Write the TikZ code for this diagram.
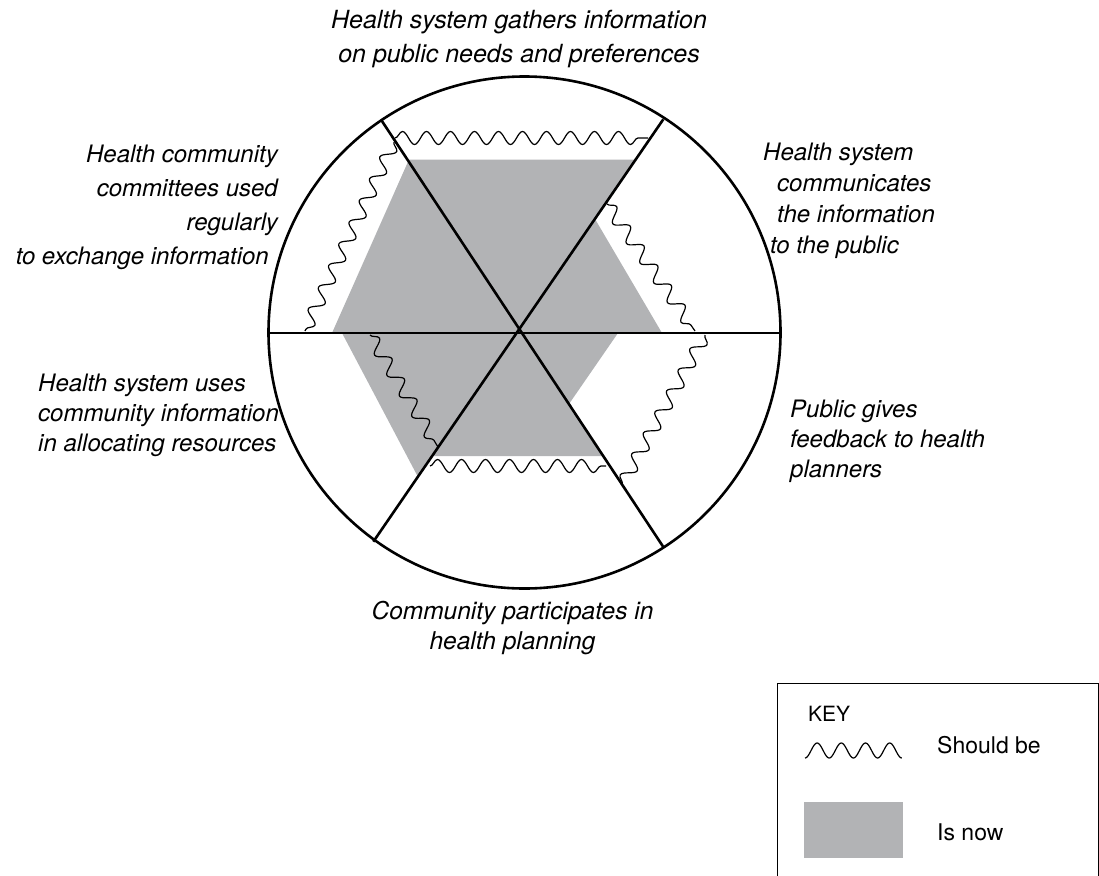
\documentclass[tikz,border=0pt]{standalone}
\usepackage{fontspec}
\setmainfont{TeX Gyre Heros}
\usetikzlibrary{decorations.pathmorphing}
\definecolor{nowgray}{RGB}{178,179,181}
\begin{document}
\begin{tikzpicture}[x=1pt,y=-1pt,
  wheel/.style={line width=2.6pt},
  wavy/.style={line width=1.2pt, decorate, decoration={snake, segment length=24pt, amplitude=6.5pt}},
  lbl/.style={inner sep=0pt},
  keytext/.style={font=\fontsize{23}{28}\selectfont, inner sep=0pt}]
\useasboundingbox (0,0) rectangle (1099,875);
% geometry
\coordinate (C) at (524.5,332.5);
\coordinate (UL) at (381.7,120.7);
\coordinate (LR) at (664,548);
\coordinate (UR) at (663.3,119.3);
\coordinate (LL) at (373.3,541.7);
\coordinate (L) at (268.5,333);
\coordinate (R) at (780.5,333);
% "is now" area
\fill[nowgray] (409,159.5) -- (636,159.5) -- (595,219) -- (662,333) -- (618,333)
  -- (569,404) -- (603.5,456) -- (432.5,456) -- (418,477) -- (342,333) -- (332,333) -- cycle;
% "should be" wavy lines
\coordinate (w1a) at (395,138); \coordinate (w1b) at (648,138);
\coordinate (w2a) at (607,204); \coordinate (w2b) at (695,331);
\coordinate (w3a) at (705,335); \coordinate (w3b) at (622,485);
\coordinate (w4a) at (430,466); \coordinate (w4b) at (606,466);
\coordinate (w5a) at (370,335); \coordinate (w5b) at (438,447);
\coordinate (w6a) at (394,142); \coordinate (w6b) at (305,331);
\draw[wavy] (w1a) -- (w1b);
\draw[wavy] (w2a) -- (w2b);
\draw[wavy] (w3a) -- (w3b);
\draw[wavy] (w4a) -- (w4b);
\draw[wavy] (w5a) -- (w5b);
\draw[wavy] (w6a) -- (w6b);
% wheel
\draw[wheel] (C) circle[radius=256];
\draw[wheel] (UL) -- (LR);
\draw[wheel] (UR) -- (LL);
\draw[wheel] (L) -- (R);
% labels (anchor = baseline of last line)
\node[lbl, font=\itshape\fontsize{25}{34}\selectfont, align=center, anchor=base] (t1) at (519,63)
  {Health system gathers information\\on public needs and preferences};
\node[lbl, font=\itshape\fontsize{24}{31}\selectfont, align=left, anchor=base west] (t2) at (763,253)
  {Health system\\\hspace*{14pt}communicates\\\hspace*{14pt}the information\\\hspace*{7pt}to the public};
\node[lbl, font=\itshape\fontsize{24}{34}\selectfont, align=right, anchor=base east] (t3) at (278,264)
  {Health community\\committees used\\regularly\\to exchange information\hspace*{9pt}};
\node[lbl, font=\itshape\fontsize{24}{30}\selectfont, align=left, anchor=base west] (t4) at (38,451)
  {Health system uses\\community information\\in allocating resources};
\node[lbl, font=\itshape\fontsize{24}{30}\selectfont, align=left, anchor=base west] (t5) at (790,477)
  {Public gives\\feedback to health\\planners};
\node[lbl, font=\itshape\fontsize{24.5}{30}\selectfont, align=center, anchor=base] (t6) at (512.5,649)
  {Community participates in\\health planning};
% key
\draw[line width=1.3pt] (777.5,683.5) rectangle (1098.3,890);
\node[keytext, font=\fontsize{21}{25}\selectfont, anchor=base west] (key) at (808,721.5) {KEY};
\draw[line width=1.2pt, shift={(805,750.5)}] plot[domain=0:96.8, samples=97, smooth] (\x,{7.5*cos(\x/24.2*360)});
\node[keytext, anchor=base west] (should) at (937,753) {Should be};
\fill[nowgray] (804,801.7) rectangle (902.7,858.3);
\node[keytext, anchor=base west] (isnow) at (937,840) {Is now};
\end{tikzpicture}
\end{document}
